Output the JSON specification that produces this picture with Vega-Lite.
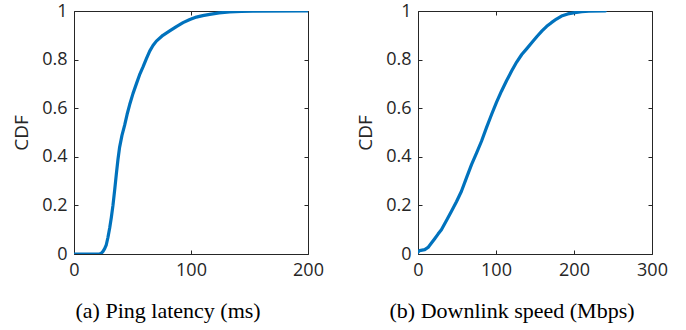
{
  "$schema": "https://vega.github.io/schema/vega-lite/v6.json",
  "padding": {"left": 12, "top": 1, "right": 5, "bottom": 5},
  "background": "white",
  "config": {
    "view": {"stroke": "#262626", "strokeWidth": 1},
    "axis": {
      "grid": false,
      "domain": false,
      "tickColor": "#262626",
      "tickWidth": 1,
      "tickSize": 4,
      "labelColor": "#262626",
      "labelFont": "Open Sans",
      "labelFontSize": 18,
      "labelFlush": false,
      "labelOverlap": false,
      "titleFont": "Open Sans",
      "titleFontSize": 19,
      "titleFontWeight": "normal",
      "titleColor": "#262626",
      "labelPadding": 7
    },
    "title": {"font": "Liberation Serif", "fontSize": 22, "fontWeight": "normal", "color": "black", "orient": "bottom", "anchor": "middle", "frame": "bounds", "offset": 22}
  },
  "datasets": {
    "ping": [
      {"x": 0, "y": 0}, {"x": 22, "y": 0}, {"x": 23.5, "y": 0.004}, {"x": 24.8, "y": 0.011}, {"x": 26.2, "y": 0.022}, {"x": 27.6, "y": 0.038},
      {"x": 29, "y": 0.068}, {"x": 30.5, "y": 0.107}, {"x": 31.9, "y": 0.15}, {"x": 33.3, "y": 0.2}, {"x": 34.8, "y": 0.265}, {"x": 36.2, "y": 0.33}, {"x": 37.6, "y": 0.39}, {"x": 39, "y": 0.44},
      {"x": 41, "y": 0.488}, {"x": 43.3, "y": 0.53}, {"x": 45.4, "y": 0.575}, {"x": 47.6, "y": 0.615}, {"x": 50.4, "y": 0.66}, {"x": 53.3, "y": 0.7}, {"x": 56, "y": 0.737}, {"x": 59, "y": 0.77},
      {"x": 61.8, "y": 0.803}, {"x": 64.7, "y": 0.835}, {"x": 67.5, "y": 0.858}, {"x": 70.4, "y": 0.876}, {"x": 76, "y": 0.9}, {"x": 81.8, "y": 0.918}, {"x": 87.5, "y": 0.936}, {"x": 93.2, "y": 0.952},
      {"x": 99, "y": 0.965}, {"x": 104.6, "y": 0.975}, {"x": 110, "y": 0.981}, {"x": 116, "y": 0.986}, {"x": 124, "y": 0.992}, {"x": 133, "y": 0.996}, {"x": 143, "y": 0.998}, {"x": 153, "y": 0.999},
      {"x": 200, "y": 1.0}
    ],
    "down": [
      {"x": 0, "y": 0.008}, {"x": 2, "y": 0.014}, {"x": 8.6, "y": 0.018}, {"x": 12.9, "y": 0.027},
      {"x": 17, "y": 0.044}, {"x": 21.4, "y": 0.063}, {"x": 25.7, "y": 0.082}, {"x": 30, "y": 0.1}, {"x": 36.5, "y": 0.138}, {"x": 42.9, "y": 0.176}, {"x": 49.3, "y": 0.215}, {"x": 55.7, "y": 0.258},
      {"x": 62, "y": 0.312}, {"x": 68.6, "y": 0.368}, {"x": 75, "y": 0.415}, {"x": 81.4, "y": 0.464}, {"x": 87.8, "y": 0.52}, {"x": 94.3, "y": 0.574}, {"x": 100.6, "y": 0.624}, {"x": 107, "y": 0.67},
      {"x": 113.5, "y": 0.713}, {"x": 120, "y": 0.753}, {"x": 126.5, "y": 0.79}, {"x": 133, "y": 0.821}, {"x": 139.5, "y": 0.845}, {"x": 146, "y": 0.87}, {"x": 152.5, "y": 0.895}, {"x": 159, "y": 0.918},
      {"x": 165, "y": 0.937}, {"x": 171, "y": 0.952}, {"x": 177.5, "y": 0.967}, {"x": 184, "y": 0.979}, {"x": 192, "y": 0.988}, {"x": 201, "y": 0.993}, {"x": 210, "y": 0.997}, {"x": 219, "y": 0.999},
      {"x": 240, "y": 1.0}
    ]
  },
  "spacing": 32,
  "hconcat": [
    {
      "width": 234,
      "height": 243,
      "title": "(a) Ping latency (ms)",
      "data": {"name": "ping"},
      "layer": [
        {
          "mark": {"type": "line", "color": "#0072BD", "strokeWidth": 3.2, "clip": true, "strokeJoin": "round", "strokeCap": "round"},
          "encoding": {
            "x": {"field": "x", "type": "quantitative", "scale": {"domain": [0, 200], "nice": false},
              "axis": {"values": [0, 100, 200], "format": "d", "title": null, "ticks": false}},
            "y": {"field": "y", "type": "quantitative", "scale": {"domain": [0, 1], "nice": false},
              "axis": {"values": [0, 0.2, 0.4, 0.6, 0.8, 1], "format": "~g", "title": "CDF", "titlePadding": 10, "ticks": false}}
          }
        },
        {
          "mark": {"type": "line", "opacity": 0},
          "encoding": {
            "x": {"field": "x", "type": "quantitative", "scale": {"domain": [0, 200], "nice": false},
              "axis": {"orient": "bottom", "offset": -4, "values": [0, 100, 200], "labels": false, "title": null}},
            "y": {"field": "y", "type": "quantitative", "scale": {"domain": [0, 1], "nice": false},
              "axis": {"orient": "left", "offset": -4, "values": [0, 0.2, 0.4, 0.6, 0.8, 1], "labels": false, "title": null}}
          }
        },
        {
          "mark": {"type": "line", "opacity": 0},
          "encoding": {
            "x": {"field": "x", "type": "quantitative", "scale": {"domain": [0, 200], "nice": false},
              "axis": {"orient": "bottom", "offset": -243, "values": [0, 100, 200], "labels": false, "title": null}},
            "y": {"field": "y", "type": "quantitative", "scale": {"domain": [0, 1], "nice": false},
              "axis": {"orient": "left", "offset": -234, "values": [0, 0.2, 0.4, 0.6, 0.8, 1], "labels": false, "title": null}}
          }
        }
      ],
      "resolve": {"axis": {"x": "independent", "y": "independent"}}
    },
    {
      "width": 234,
      "height": 243,
      "title": "(b) Downlink speed (Mbps)",
      "data": {"name": "down"},
      "layer": [
        {
          "mark": {"type": "line", "color": "#0072BD", "strokeWidth": 3.2, "clip": true, "strokeJoin": "round", "strokeCap": "round"},
          "encoding": {
            "x": {"field": "x", "type": "quantitative", "scale": {"domain": [0, 300], "nice": false},
              "axis": {"values": [0, 100, 200, 300], "format": "d", "title": null, "ticks": false}},
            "y": {"field": "y", "type": "quantitative", "scale": {"domain": [0, 1], "nice": false},
              "axis": {"values": [0, 0.2, 0.4, 0.6, 0.8, 1], "format": "~g", "title": "CDF", "titlePadding": 10, "ticks": false}}
          }
        },
        {
          "mark": {"type": "line", "opacity": 0},
          "encoding": {
            "x": {"field": "x", "type": "quantitative", "scale": {"domain": [0, 300], "nice": false},
              "axis": {"orient": "bottom", "offset": -4, "values": [0, 100, 200, 300], "labels": false, "title": null}},
            "y": {"field": "y", "type": "quantitative", "scale": {"domain": [0, 1], "nice": false},
              "axis": {"orient": "left", "offset": -4, "values": [0, 0.2, 0.4, 0.6, 0.8, 1], "labels": false, "title": null}}
          }
        },
        {
          "mark": {"type": "line", "opacity": 0},
          "encoding": {
            "x": {"field": "x", "type": "quantitative", "scale": {"domain": [0, 300], "nice": false},
              "axis": {"orient": "bottom", "offset": -243, "values": [0, 100, 200, 300], "labels": false, "title": null}},
            "y": {"field": "y", "type": "quantitative", "scale": {"domain": [0, 1], "nice": false},
              "axis": {"orient": "left", "offset": -234, "values": [0, 0.2, 0.4, 0.6, 0.8, 1], "labels": false, "title": null}}
          }
        }
      ],
      "resolve": {"axis": {"x": "independent", "y": "independent"}}
    }
  ]
}
